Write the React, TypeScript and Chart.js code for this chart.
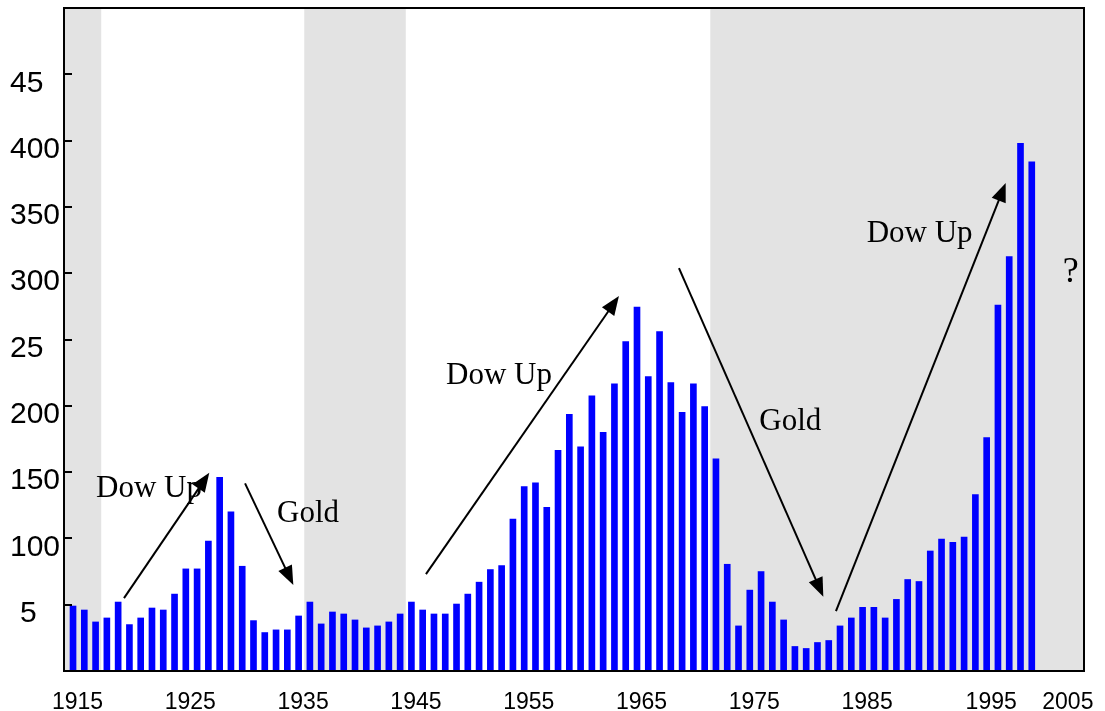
import { useEffect, useRef } from "react";
import { Chart, registerables } from "chart.js";

Chart.register(...registerables);

// ---- data ----
const years = [
  1915, 1916, 1917, 1918, 1919, 1920, 1921, 1922, 1923, 1924,
  1925, 1926, 1927, 1928, 1929, 1930, 1931, 1932, 1933, 1934,
  1935, 1936, 1937, 1938, 1939, 1940, 1941, 1942, 1943, 1944,
  1945, 1946, 1947, 1948, 1949, 1950, 1951, 1952, 1953, 1954,
  1955, 1956, 1957, 1958, 1959, 1960, 1961, 1962, 1963, 1964,
  1965, 1966, 1967, 1968, 1969, 1970, 1971, 1972, 1973, 1974,
  1975, 1976, 1977, 1978, 1979, 1980, 1981, 1982, 1983, 1984,
  1985, 1986, 1987, 1988, 1989, 1990, 1991, 1992, 1993, 1994,
  1995, 1996, 1997, 1998, 1999, 2000,
];

const dowGold = [
  49, 46, 37, 40, 52, 35, 40, 47.5, 46, 58,
  77, 77, 98, 146, 120, 79, 38, 29, 31, 31,
  41.5, 52, 35.5, 44.5, 43, 38.5, 32.5, 34, 37, 43,
  52, 46, 43, 43, 50.5, 58, 67, 76.5, 79.5, 114.5,
  139, 142, 123.5, 166.5, 193.5, 169, 207.5, 180, 216.5, 248.5,
  274.5, 222, 256, 217.5, 195, 216.5, 199.5, 160, 80.5, 34,
  61, 75, 52, 38.5, 18.5, 17, 21.5, 23, 34, 40,
  48, 48, 40, 54, 69, 67.5, 90.5, 99.5, 97, 101,
  133, 176, 276, 312.5, 398, 384,
];

const yTickValues = [50, 100, 150, 200, 250, 300, 350, 400, 450];
const yTickLabels = ["\u20045", "100", "150", "200", "25", "300", "350", "400", "45"];

const xTickLabels = ["1915", "1925", "1935", "1945", "1955", "1965", "1975", "1985", "1995", "2005"];
const xTickPositions = [1915.4, 1925.4, 1935.4, 1945.4, 1955.4, 1965.4, 1975.4, 1985.4, 1996.4, 2003.2];

const X_MIN = 1914.2;
const X_MAX = 2004.63;

// shaded periods (null = edge of plot)
const shadeFrom = [null, 1935.5, 1971.5];
const shadeTo = [1917.5, 1944.5, null];

// arrows (year, value)
const arrowFromX = [1919.52, 1930.25, 1946.29, 1968.72, 1982.64];
const arrowFromY = [55.0, 141.5, 73.1, 303.9, 45.2];
const arrowToX = [1927.08, 1934.53, 1963.4, 1981.52, 1997.69];
const arrowToY = [149.5, 64.9, 282.8, 56.0, 368.1];

// text notes (left x year, baseline value)
const noteText = ["Dow Up", "Gold", "Dow Up", "Gold", "Dow Up", "?"];
const noteX = [1917.04, 1933.09, 1948.07, 1975.84, 1985.36, 2002.74];
const noteY = [131.2, 112.6, 216.2, 181.7, 323.2, 293.3];
const noteSize = [31, 31, 31, 31, 31, 36];

const decorPlugin = {
  id: "decor",
  beforeDatasetsDraw(chart: any) {
    const { ctx, chartArea: a, scales } = chart;
    const x = scales.x;
    ctx.save();
    ctx.fillStyle = "#e3e3e3";
    for (let i = 0; i < shadeFrom.length; i++) {
      const x0 = shadeFrom[i] == null ? a.left : x.getPixelForValue(shadeFrom[i]);
      const x1 = shadeTo[i] == null ? a.right : x.getPixelForValue(shadeTo[i]);
      ctx.fillRect(x0, a.top, x1 - x0, a.bottom - a.top);
    }
    ctx.restore();
  },
  afterDatasetsDraw(chart: any) {
    const { ctx, chartArea: a, scales } = chart;
    const x = scales.x;
    const y = scales.y;
    ctx.save();
    // frame
    ctx.strokeStyle = "#000";
    ctx.lineWidth = 2;
    ctx.strokeRect(a.left, a.top, a.right - a.left, a.bottom - a.top);
    // inside ticks
    ctx.beginPath();
    for (const v of yTickValues) {
      const py = Math.round(y.getPixelForValue(v));
      ctx.moveTo(a.left, py);
      ctx.lineTo(a.left + 8, py);
    }
    ctx.stroke();
    // arrows
    ctx.fillStyle = "#000";
    ctx.lineWidth = 2;
    for (let i = 0; i < arrowFromX.length; i++) {
      const x1 = x.getPixelForValue(arrowFromX[i]);
      const y1 = y.getPixelForValue(arrowFromY[i]);
      const x2 = x.getPixelForValue(arrowToX[i]);
      const y2 = y.getPixelForValue(arrowToY[i]);
      const ang = Math.atan2(y2 - y1, x2 - x1);
      const L = 19;
      const W = 7.5;
      const c = Math.cos(ang);
      const s = Math.sin(ang);
      const bx = x2 - L * c;
      const by = y2 - L * s;
      ctx.beginPath();
      ctx.moveTo(x1, y1);
      ctx.lineTo(bx + c * 2, by + s * 2);
      ctx.stroke();
      ctx.beginPath();
      ctx.moveTo(x2, y2);
      ctx.lineTo(bx + W * s, by - W * c);
      ctx.lineTo(bx - W * s, by + W * c);
      ctx.closePath();
      ctx.fill();
    }
    // notes
    ctx.textBaseline = "alphabetic";
    ctx.textAlign = "left";
    ctx.fillStyle = "#000";
    for (let i = 0; i < noteText.length; i++) {
      ctx.font = `${noteSize[i]}px "Liberation Serif", "Times New Roman", serif`;
      ctx.fillText(noteText[i], x.getPixelForValue(noteX[i]), y.getPixelForValue(noteY[i]));
    }
    ctx.restore();
  },
};

export default function App() {
  const ref = useRef<HTMLCanvasElement | null>(null);

  useEffect(() => {
    if (!ref.current) return;
    const chart = new Chart(ref.current, {
      type: "bar",
      data: {
        datasets: [
          {
            data: years.map((yr, i) => ({ x: yr, y: dowGold[i] })),
            backgroundColor: "#0000ff",
            borderWidth: 0,
            barThickness: 6,
          },
        ],
      },
      options: {
        animation: false,
        responsive: false,
        devicePixelRatio: 1,
        layout: { padding: { top: 8, right: 21, left: 10, bottom: 0 } },
        plugins: {
          legend: { display: false },
          tooltip: { enabled: false },
        },
        scales: {
          x: {
            type: "linear",
            min: X_MIN,
            max: X_MAX,
            offset: false,
            grid: { display: false, drawTicks: false, offset: false },
            border: { display: false },
            afterBuildTicks: (scale: any) => {
              scale.ticks = xTickPositions.map((v) => ({ value: v }));
            },
            afterFit: (scale: any) => {
              scale.height = 40;
              scale.paddingLeft = 0;
              scale.paddingRight = 0;
            },
            ticks: {
              autoSkip: false,
              maxRotation: 0,
              padding: 18,
              color: "#000",
              font: { family: '"Liberation Sans", Arial, sans-serif', size: 23 },
              callback: (_v: any, i: number) => xTickLabels[i],
            },
          },
          y: {
            type: "linear",
            min: 0,
            max: 500,
            grid: { display: false, drawTicks: false },
            border: { display: false },
            afterBuildTicks: (scale: any) => {
              scale.ticks = yTickValues.map((v) => ({ value: v }));
            },
            afterFit: (scale: any) => {
              scale.width = 54;
              scale.paddingTop = 0;
              scale.paddingBottom = 0;
            },
            ticks: {
              crossAlign: "far",
              padding: 2,
              labelOffset: 9,
              color: "#000",
              font: { family: '"Liberation Sans", Arial, sans-serif', size: 30 },
              callback: (_v: any, i: number) => yTickLabels[i],
            },
          },
        },
      },
      plugins: [decorPlugin],
    });
    return () => chart.destroy();
  }, []);

  return (
    <div style={{ position: "fixed", left: 0, top: 0, width: 1105, height: 711, background: "#fff" }}>
      <canvas ref={ref} width={1105} height={711} style={{ display: "block" }} />
    </div>
  );
}
